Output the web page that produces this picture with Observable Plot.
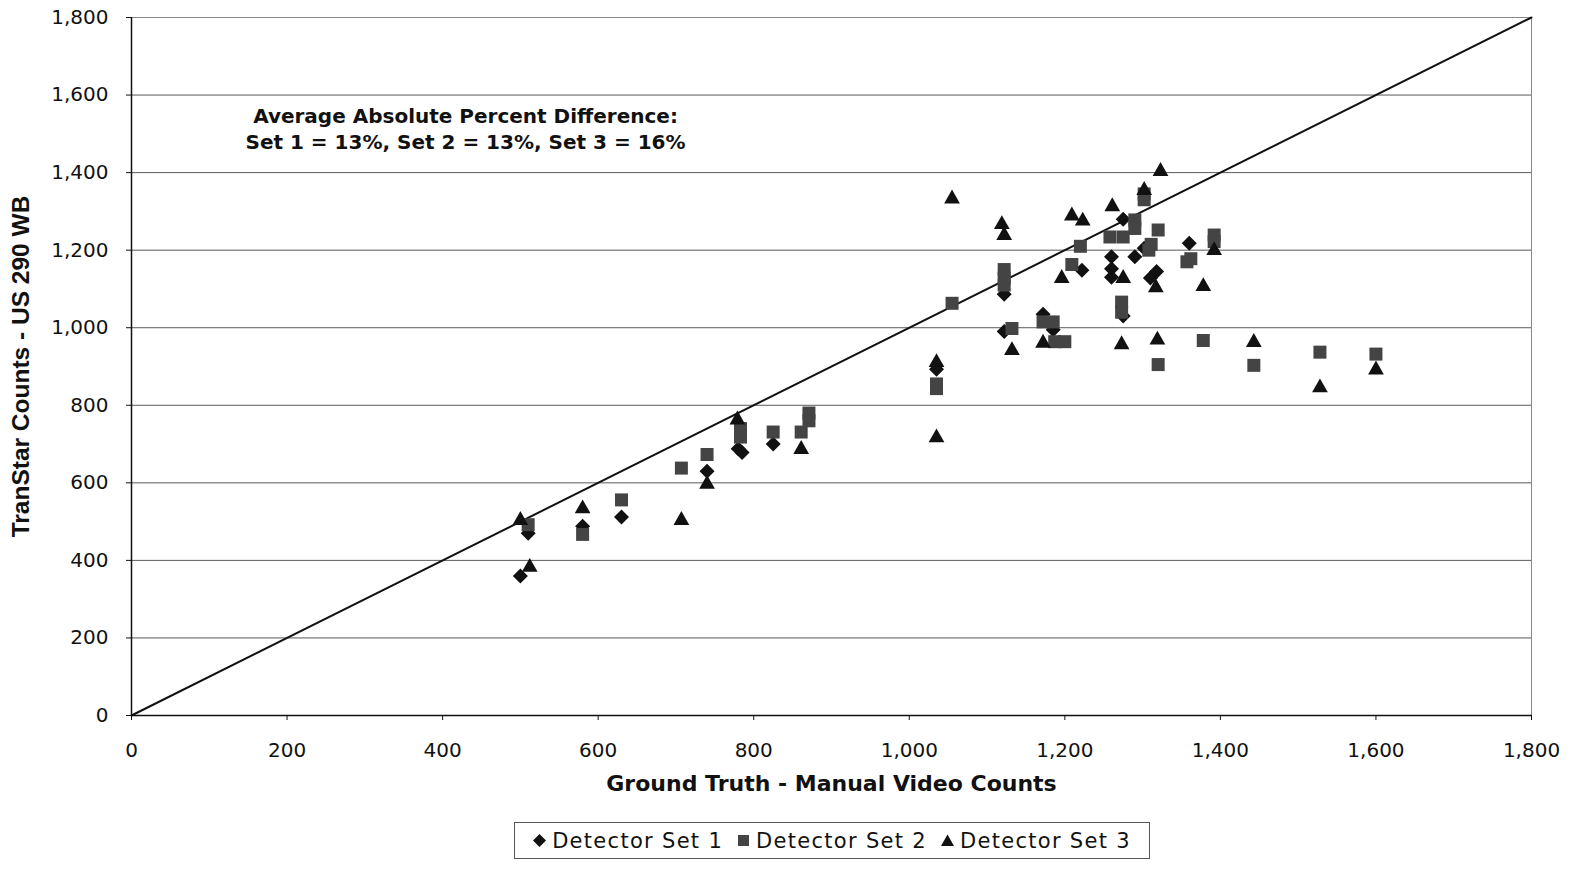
<!DOCTYPE html>
<html><head><meta charset="utf-8">
<script src="https://cdn.jsdelivr.net/npm/d3@7"></script>
<script src="https://cdn.jsdelivr.net/npm/@observablehq/plot@0.6"></script>
<style>
html,body{margin:0;padding:0;background:#fff;overflow:hidden;}
#wrap{position:relative;width:1585px;height:869px;background:#fff;overflow:hidden;}
#chart svg{max-width:none !important;display:block;}
#legend{position:absolute;left:514px;top:822px;width:636px;height:37px;border:1px solid #555;box-sizing:border-box;display:flex;align-items:center;justify-content:center;font-family:"DejaVu Sans",sans-serif;font-size:21px;letter-spacing:1.3px;color:#111;white-space:nowrap;}
#legend .item{display:flex;align-items:center;margin:0 7px;}
#legend svg{margin-right:6px;}
</style></head>
<body><div id="wrap"><div id="chart"></div><div id="legend"></div></div>
<script>
// ---- data ----
const set1X = [500, 510, 580, 630, 740, 780, 785, 825, 1035, 1122, 1122, 1172, 1185, 1222, 1260, 1260, 1260, 1275, 1275, 1290, 1302, 1310, 1318, 1360];
const set1Y = [360, 470, 488, 512, 630, 688, 678, 700, 893, 1086, 990, 1035, 995, 1148, 1183, 1152, 1130, 1280, 1030, 1183, 1205, 1128, 1145, 1218];
const set2X = [510, 580, 630, 707, 740, 783, 783, 825, 861, 871, 871, 1035, 1035, 1055, 1122, 1122, 1122, 1132, 1172, 1185, 1187, 1200, 1209, 1220, 1258, 1273, 1273, 1275, 1290, 1290, 1302, 1302, 1311, 1320, 1308, 1320, 1357, 1362, 1378, 1392, 1392, 1443, 1528, 1600];
const set2Y = [492, 467, 556, 638, 673, 740, 718, 731, 731, 780, 760, 855, 843, 1063, 1150, 1128, 1110, 998, 1015, 1015, 964, 964, 1163, 1210, 1234, 1066, 1040, 1234, 1278, 1256, 1330, 1345, 1215, 1252, 1200, 905, 1170, 1178, 967, 1239, 1222, 903, 937, 932];
const set3X = [500, 512, 580, 707, 740, 779, 861, 1035, 1035, 1055, 1119, 1122, 1132, 1172, 1196, 1209, 1223, 1261, 1275, 1273, 1302, 1323, 1317, 1319, 1378, 1392, 1443, 1528, 1600];
const set3Y = [507, 386, 537, 507, 600, 766, 690, 914, 720, 1336, 1270, 1242, 945, 964, 1131, 1292, 1279, 1316, 1131, 960, 1358, 1407, 1107, 972, 1110, 1203, 966, 849, 895];
const seriesNames = ["Detector Set 1", "Detector Set 2", "Detector Set 3"];
const ticks = [0, 200, 400, 600, 800, 1000, 1200, 1400, 1600, 1800];
const diagonal = [0, 1800];
const xLabel = "Ground Truth - Manual Video Counts";
const yLabel = "TranStar Counts - US 290 WB";
const noteLines = ["Average Absolute Percent Difference:", "Set 1 = 13%, Set 2 = 13%, Set 3 = 16%"];

// ---- symbols ----
const diamondSym = {draw(ctx, size){ const r = Math.sqrt(size/Math.PI); ctx.moveTo(0,-r); ctx.lineTo(r,0); ctx.lineTo(0,r); ctx.lineTo(-r,0); ctx.closePath(); }};
const squareSym = {draw(ctx, size){ const r = Math.sqrt(size/Math.PI); ctx.rect(-r,-r,2*r,2*r); }};
const triSym = {draw(ctx, size){ const r = Math.sqrt(size/Math.PI); ctx.moveTo(0,-r*1.05); ctx.lineTo(r*1.05,r*0.8); ctx.lineTo(-r*1.05,r*0.8); ctx.closePath(); }};

const toRows = (xs, ys) => xs.map((x,i)=>({x, y: ys[i]}));
const s1 = toRows(set1X, set1Y), s2 = toRows(set2X, set2Y), s3 = toRows(set3X, set3Y);
const fmt = d3.format(",");

const chart = Plot.plot({
  width: 1585, height: 800,
  marginLeft: 131, marginRight: 54, marginTop: 17, marginBottom: 85,
  style: {fontFamily: "DejaVu Sans, sans-serif", fontSize: "20px", background: "#fff", color: "#111"},
  x: {domain: [0, 1800]},
  y: {domain: [0, 1800]},
  marks: [
    Plot.gridY(ticks.slice(1, -1), {stroke: "#5a5a5a", strokeOpacity: 1, strokeWidth: 1}),
    Plot.frame({stroke: "#888", strokeWidth: 1}),
    Plot.ruleX([0], {stroke: "#111", strokeWidth: 1.5}),
    Plot.ruleY([0], {stroke: "#111", strokeWidth: 1.5}),
    Plot.axisX({ticks, tickFormat: fmt, tickSize: 5, tickPadding: 22, label: null, stroke: "#111", fill: "#111", fontSize: 20, style: "letter-spacing:1px"}),
    Plot.axisY({ticks, tickFormat: fmt, tickSize: 5, tickPadding: 18, label: null, stroke: "#111", fill: "#111", fontSize: 20, style: "letter-spacing:1px"}),
    Plot.line(diagonal.map(v => [v, v]), {stroke: "#111", strokeWidth: 2}),
    Plot.dot(s1, {x: "x", y: "y", symbol: diamondSym, r: 7.5, fill: "#111", stroke: "none"}),
    Plot.dot(s2, {x: "x", y: "y", symbol: squareSym, r: 6.5, fill: "#444", stroke: "none"}),
    Plot.dot(s3, {x: "x", y: "y", symbol: triSym, r: 7.5, fill: "#111", stroke: "none"}),
    Plot.text([noteLines.join("\n")], {frameAnchor: "top-left", dx: 334, dy: 110, textAnchor: "middle", lineAnchor: "middle", lineHeight: 1.3, fontWeight: "bold", fontSize: 20, fill: "#111", style: "letter-spacing:1.6px"}),
    Plot.text([xLabel], {frameAnchor: "bottom", dy: 68, textAnchor: "middle", fontWeight: "bold", fontSize: 22, fill: "#111", lineAnchor: "middle", style: "letter-spacing:2.7px"}),
    Plot.text([yLabel], {frameAnchor: "left", dx: -110, rotate: -90, textAnchor: "middle", fontWeight: "bold", fontSize: 24.5, fontFamily: "Liberation Sans, Arial, sans-serif", fill: "#111", lineAnchor: "middle"})
  ]
});
document.getElementById("chart").appendChild(chart);

// ---- legend ----
const legendShapes = [
  '<path d="M6.5,0L13,6.5L6.5,13L0,6.5Z" fill="#111"/>',
  '<rect x="1" y="1" width="11" height="11" fill="#444"/>',
  '<path d="M6.5,0.5L13,12L0,12Z" fill="#111"/>'
];
const leg = document.getElementById("legend");
seriesNames.forEach((n, i) => {
  const d = document.createElement("div");
  d.className = "item";
  d.innerHTML = `<svg width="13" height="13" viewBox="0 0 13 13">${legendShapes[i]}</svg><span>${n}</span>`;
  leg.appendChild(d);
});
</script>
</body></html>
